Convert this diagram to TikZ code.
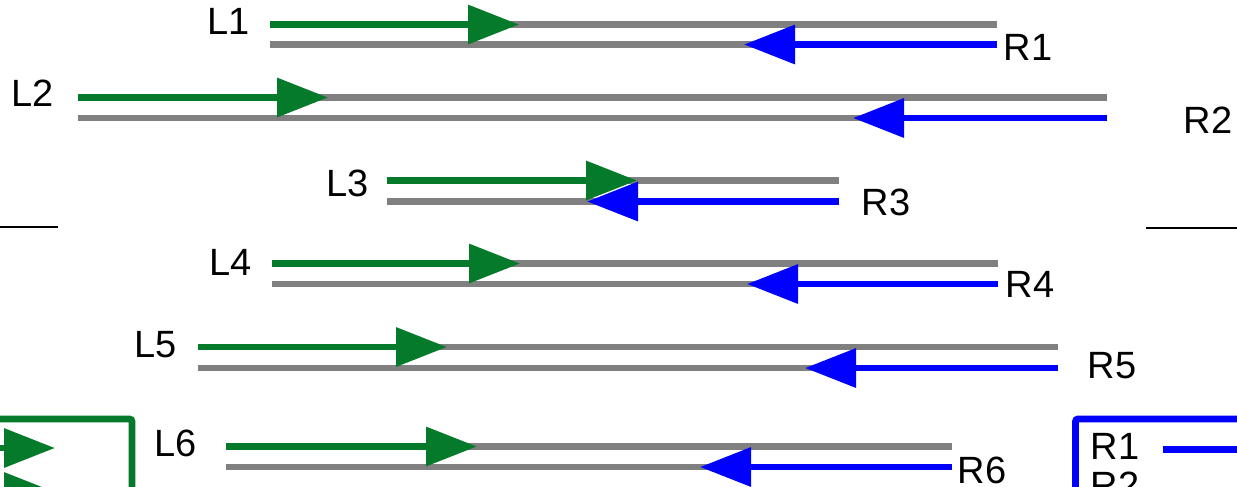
\documentclass[tikz,border=0pt]{standalone}
\usepackage{fontspec}
\setmainfont{Liberation Sans}
\usetikzlibrary{
    positioning,
    arrows.meta
}
\definecolor{trackgray}{RGB}{128,128,128}
\definecolor{leftgreen}{RGB}{4,122,42}
\definecolor{rightblue}{RGB}{0,0,255}
\tikzset{%
    end label/.style={%
        inner sep = 0pt,
        outer sep = 0pt,
        font=\fontsize{28.5}{34}\selectfont
    },
    track/.style={%
        draw=trackgray,
        line width=4.9pt
    },
    left run/.style={%
        draw=leftgreen,
        line width=4.9pt,
        -{Triangle[length=38.25pt, width=28.5pt]}
    },
    right run/.style={%
        draw=rightblue,
        line width=4.9pt,
        -{Triangle[length=38.25pt, width=28.5pt]}
    },
    legend box/.style={%
        rounded corners=2pt,
        line width=5.2pt
    },
    divider/.style={%
        draw=black,
        line width=1.5pt
    },
}

\begin{document}
\begin{tikzpicture}[x=0.75pt, y=-0.75pt]
    \useasboundingbox (0,0) rectangle (1237,486);
    \clip (0,0) rectangle (1237,486);

    % end labels
    \node[end label] (L1) at (229,21) {L1};
    \node[end label] (R1) at (1028,47) {R1};
    \node[end label] (L2) at (33,93) {L2};
    \node[end label] (R2) at (1208,120) {R2};
    \node[end label] (L3) at (348,183) {L3};
    \node[end label] (R3) at (886,202) {R3};
    \node[end label] (L4) at (231,262) {L4};
    \node[end label] (R4) at (1030,284) {R4};
    \node[end label] (L5) at (156,345) {L5};
    \node[end label] (R5) at (1112,366) {R5};
    \node[end label] (L6) at (176,443) {L6};
    \node[end label] (R6) at (982,470) {R6};

    % track ends and arrow tips
    \coordinate (a1) at (270,24.5);  \coordinate (b1) at (997,24.5);
    \coordinate (c1) at (270,44.5);  \coordinate (d1) at (997,44.5);
    \coordinate (a2) at (78,97.5);   \coordinate (b2) at (1107,97.5);
    \coordinate (c2) at (78,118);    \coordinate (d2) at (1107,118);
    \coordinate (a3) at (387,180.5); \coordinate (b3) at (839,180.5);
    \coordinate (c3) at (387,201.5); \coordinate (d3) at (839,201.5);
    \coordinate (a4) at (272,263.5); \coordinate (b4) at (998,263.5);
    \coordinate (c4) at (272,284);   \coordinate (d4) at (998,284);
    \coordinate (a5) at (198,347);   \coordinate (b5) at (1058,347);
    \coordinate (c5) at (198,368);   \coordinate (d5) at (1058,368);
    \coordinate (a6) at (226,446.5); \coordinate (b6) at (952,446.5);
    \coordinate (c6) at (226,467);   \coordinate (d6) at (952,467);

    \coordinate (g1) at (519,24.5);  \coordinate (h1) at (744,44.5);
    \coordinate (g2) at (328,97.5);  \coordinate (h2) at (853,118);
    \coordinate (g3) at (637,180.5); \coordinate (h3) at (587,201.5);
    \coordinate (g4) at (520,263.5); \coordinate (h4) at (747,284);
    \coordinate (g5) at (447,347);   \coordinate (h5) at (805,368);
    \coordinate (g6) at (477,446.5); \coordinate (h6) at (700,467);

    \draw[track] (a1) -- (b1);  \draw[track] (c1) -- (d1);
    \draw[track] (a2) -- (b2);  \draw[track] (c2) -- (d2);
    \draw[track] (a3) -- (b3);  \draw[track] (c3) -- (d3);
    \draw[track] (a4) -- (b4);  \draw[track] (c4) -- (d4);
    \draw[track] (a5) -- (b5);  \draw[track] (c5) -- (d5);
    \draw[track] (a6) -- (b6);  \draw[track] (c6) -- (d6);

    \draw[left run] (a1) -- (g1);  \draw[right run] (d1) -- (h1);
    \draw[left run] (a2) -- (g2);  \draw[right run] (d2) -- (h2);
    \draw[left run] (a3) -- (g3);  \draw[right run] (d3) -- (h3);
    \draw[left run] (a4) -- (g4);  \draw[right run] (d4) -- (h4);
    \draw[left run] (a5) -- (g5);  \draw[right run] (d5) -- (h5);
    \draw[left run] (a6) -- (g6);  \draw[right run] (d6) -- (h6);

    % dividers
    \coordinate (m1) at (0,227);    \coordinate (m2) at (58,227);
    \coordinate (m3) at (1146,228); \coordinate (m4) at (1237,228);
    \draw[divider] (m1) -- (m2);
    \draw[divider] (m3) -- (m4);

    % legends, cut by the frame
    \draw[legend box, draw=leftgreen] (-30,560) |- (132,419) -- (132,560);
    \coordinate (k1) at (-30,448); \coordinate (k2) at (55,448);
    \coordinate (k3) at (-30,492); \coordinate (k4) at (55,492);
    \draw[left run] (k1) -- (k2);
    \draw[left run] (k3) -- (k4);

    \draw[legend box, draw=rightblue] (1075.5,560) |- (1300,419);
    \node[end label] (legR1) at (1115,446) {R1};
    \node[end label, below=10pt of legR1] (legR2) {R2};
    \coordinate (k5) at (1163,449.5); \coordinate (k6) at (1300,449.5);
    \draw[draw=rightblue, line width=4.9pt] (k5) -- (k6);
\end{tikzpicture}
\end{document}
